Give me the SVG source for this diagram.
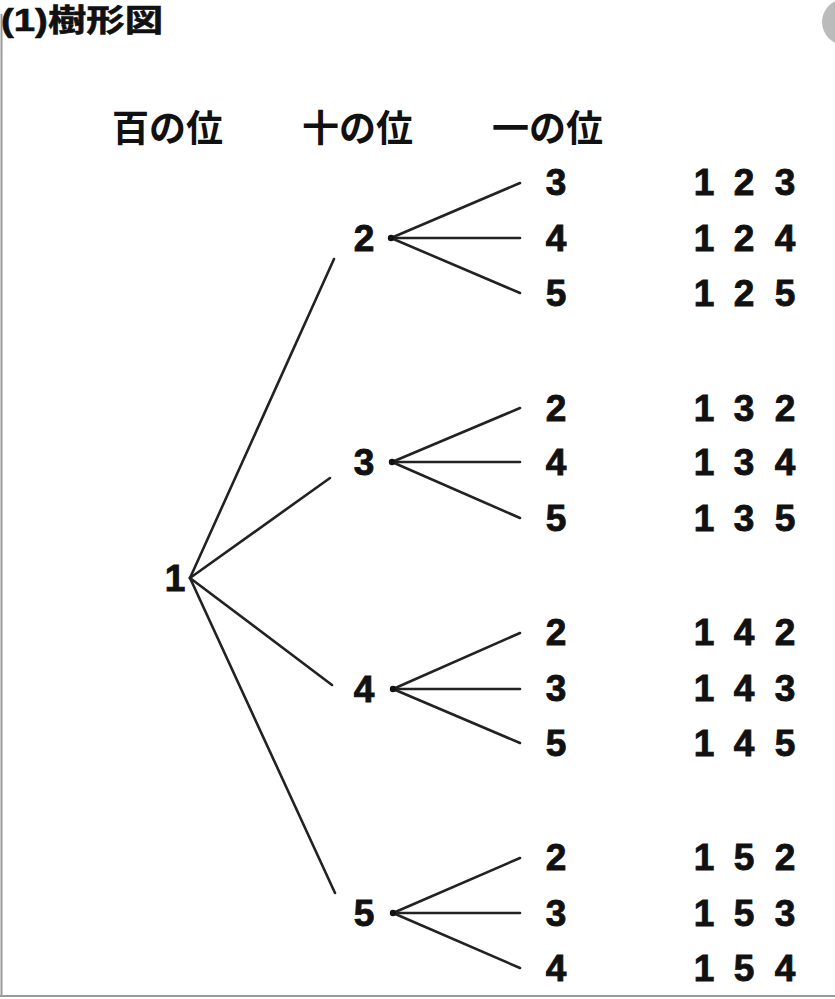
<svg xmlns="http://www.w3.org/2000/svg" width="835" height="999" viewBox="0 0 835 999">
<style>
.t{font-family:"Liberation Sans","Noto Sans CJK JP",sans-serif;font-weight:bold;fill:#111}
.h{font-size:37px}
.d{font-size:37px;text-anchor:middle;stroke:#111;stroke-width:0.9}
.ln{stroke:#222;stroke-width:2.6;fill:none;stroke-linecap:round}
.dot{fill:#111}
</style>
<rect width="835" height="999" fill="#fff"/>
<line x1="1.5" y1="14" x2="1.5" y2="996" stroke="#999" stroke-width="2"/>
<line x1="0" y1="996" x2="835" y2="996" stroke="#999" stroke-width="2"/>
<g id="badge">
<circle cx="845" cy="22" r="23" fill="#bbb"/>
</g>
<text id="title" class="t" x="1" y="31" font-size="31" stroke="#111" stroke-width="0.6" textLength="162" lengthAdjust="spacingAndGlyphs">(1)樹形図</text>
<g id="headers">
<text class="t h" x="112" y="142">百の位</text>
<text class="t h" x="302" y="142">十の位</text>
<text class="t h" x="492" y="142">一の位</text>
</g>
<g id="connectors">
<line class="ln" x1="190" y1="578" x2="334" y2="259"/>
<line class="ln" x1="190" y1="578" x2="330" y2="478"/>
<line class="ln" x1="190" y1="578" x2="332" y2="685"/>
<line class="ln" x1="190" y1="578" x2="335" y2="893"/>
<line class="ln" x1="391" y1="238" x2="520" y2="183"/>
<line class="ln" x1="391" y1="238" x2="520" y2="238"/>
<line class="ln" x1="391" y1="238" x2="520" y2="293"/>
<line class="ln" x1="392" y1="462" x2="520" y2="408"/>
<line class="ln" x1="392" y1="462" x2="520" y2="462"/>
<line class="ln" x1="392" y1="462" x2="520" y2="518"/>
<line class="ln" x1="393" y1="689" x2="520" y2="633"/>
<line class="ln" x1="393" y1="689" x2="520" y2="689"/>
<line class="ln" x1="393" y1="689" x2="520" y2="743"/>
<line class="ln" x1="393" y1="913" x2="520" y2="858"/>
<line class="ln" x1="393" y1="913" x2="520" y2="913"/>
<line class="ln" x1="393" y1="913" x2="520" y2="968"/>
<circle class="dot" cx="391" cy="238" r="3.2"/>
<circle class="dot" cx="392" cy="462" r="3.2"/>
<circle class="dot" cx="393" cy="689" r="3.2"/>
<circle class="dot" cx="393" cy="913" r="3.2"/>
</g>
<g id="n1"><text class="t d" x="175" y="591">1</text></g>
<g id="n2"><text class="t d" x="364" y="251">2</text></g>
<g id="n3"><text class="t d" x="364" y="475">3</text></g>
<g id="n4"><text class="t d" x="364" y="702">4</text></g>
<g id="n5"><text class="t d" x="364" y="926">5</text></g>
<g id="leaves">
<text class="t d" x="556" y="195">3</text>
<text class="t d" x="556" y="251">4</text>
<text class="t d" x="556" y="306">5</text>
<text class="t d" x="556" y="421">2</text>
<text class="t d" x="556" y="475">4</text>
<text class="t d" x="556" y="531">5</text>
<text class="t d" x="556" y="645">2</text>
<text class="t d" x="556" y="701">3</text>
<text class="t d" x="556" y="756">5</text>
<text class="t d" x="556" y="870">2</text>
<text class="t d" x="556" y="926">3</text>
<text class="t d" x="556" y="981">4</text>
</g>
<g id="results">
<text class="t d" y="195"><tspan x="704">1</tspan><tspan x="744">2</tspan><tspan x="785">3</tspan></text>
<text class="t d" y="251"><tspan x="704">1</tspan><tspan x="744">2</tspan><tspan x="785">4</tspan></text>
<text class="t d" y="306"><tspan x="704">1</tspan><tspan x="744">2</tspan><tspan x="785">5</tspan></text>
<text class="t d" y="421"><tspan x="704">1</tspan><tspan x="744">3</tspan><tspan x="785">2</tspan></text>
<text class="t d" y="475"><tspan x="704">1</tspan><tspan x="744">3</tspan><tspan x="785">4</tspan></text>
<text class="t d" y="531"><tspan x="704">1</tspan><tspan x="744">3</tspan><tspan x="785">5</tspan></text>
<text class="t d" y="645"><tspan x="704">1</tspan><tspan x="744">4</tspan><tspan x="785">2</tspan></text>
<text class="t d" y="701"><tspan x="704">1</tspan><tspan x="744">4</tspan><tspan x="785">3</tspan></text>
<text class="t d" y="756"><tspan x="704">1</tspan><tspan x="744">4</tspan><tspan x="785">5</tspan></text>
<text class="t d" y="870"><tspan x="704">1</tspan><tspan x="744">5</tspan><tspan x="785">2</tspan></text>
<text class="t d" y="926"><tspan x="704">1</tspan><tspan x="744">5</tspan><tspan x="785">3</tspan></text>
<text class="t d" y="981"><tspan x="704">1</tspan><tspan x="744">5</tspan><tspan x="785">4</tspan></text>
</g>
</svg>
